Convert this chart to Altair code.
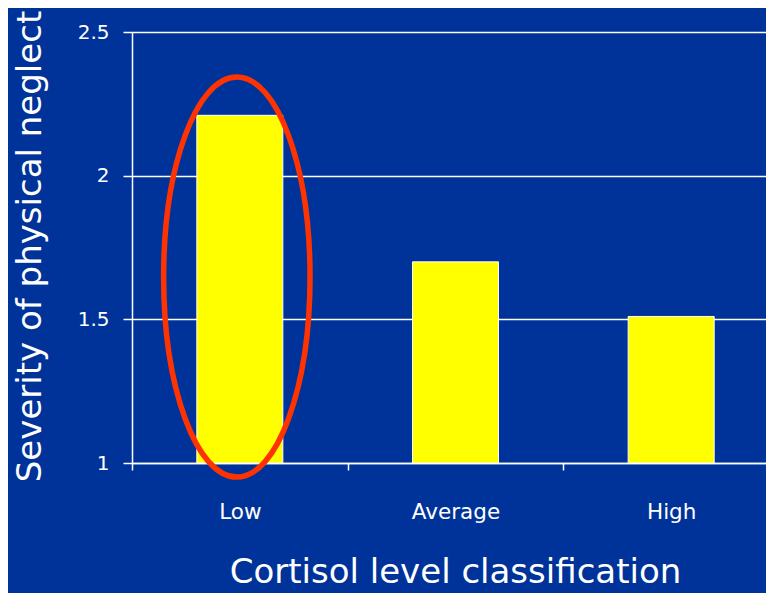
import altair as alt
import pandas as pd

# ---- data ----
categories = ["Low", "Average", "High"]
severity = [2.21, 1.70, 1.51]
y_ticks = [1, 1.5, 2, 2.5]
highlight_cat = ["Low"]
highlight_mid = [1.647]

bars_df = pd.DataFrame({"cat": categories, "value": severity})
ell_df = pd.DataFrame({"cat": highlight_cat, "value": highlight_mid})

FONT = "DejaVu Sans"
BG = "#003399"

# ellipse outline (unit path, scaled by point size)
a = 0.366
k = 0.5523
ka = round(k * a, 4)
ELLIPSE = (
    f"M 0 -1 C {ka} -1 {a} -{k} {a} 0 "
    f"C {a} {k} {ka} 1 0 1 "
    f"C -{ka} 1 -{a} {k} -{a} 0 "
    f"C -{a} -{k} -{ka} -1 0 -1 Z"
)

x_enc = alt.X(
    "cat:N",
    sort=categories,
    scale=alt.Scale(range=[0, 647], paddingInner=0, paddingOuter=0),
    axis=alt.Axis(
        title="Cortisol level classification",
        labelAngle=0,
        tickBand="extent",
        tickSize=7,
        tickColor="white",
        tickWidth=1.5,
        domainColor="white",
        domainWidth=1.5,
        labelColor="white",
        labelFont=FONT,
        labelFontSize=21.5,
        labelBaseline="alphabetic",
        labelPadding=48,
        titleFont=FONT,
        titleFontSize=34,
        titleColor="white",
        titleFontWeight="normal",
        titleX=323,
        titleY=119,
        titleAlign="center",
        titleBaseline="alphabetic",
        grid=False,
    ),
)

y_enc = alt.Y(
    "value:Q",
    scale=alt.Scale(domain=[1, 2.5], zero=False, nice=False),
    axis=alt.Axis(
        title="Severity of physical neglect",
        values=y_ticks,
        format=".1~f",
        tickSize=9,
        tickColor="white",
        tickWidth=1.5,
        domainColor="white",
        domainWidth=1.5,
        grid=True,
        gridColor="white",
        gridWidth=1.5,
        labelColor="white",
        labelFont=FONT,
        labelFontSize=20,
        labelPadding=14,
        titleFont=FONT,
        titleFontSize=34,
        titleColor="white",
        titleFontWeight="normal",
        titleAngle=270,
        titleX=-92,
        titleY=214,
        titleAlign="center",
        titleBaseline="alphabetic",
    ),
)

bars = alt.Chart(bars_df).mark_bar(
    size=86, color="#ffff00", stroke="white", strokeWidth=1
).encode(x=x_enc, y=y_enc, y2=alt.datum(1))

ellipse = alt.Chart(ell_df).mark_point(
    shape=ELLIPSE,
    size=160000,
    filled=False,
    stroke="#ff3300",
    strokeWidth=5.5,
    opacity=1,
    xOffset=-3,
).encode(x=alt.X("cat:N", sort=categories), y=alt.Y("value:Q"))

chart = (
    alt.layer(bars, ellipse)
    .properties(
        width=634,
        height=431,
        padding={"left": 124, "top": 24, "right": 0, "bottom": 130},
        autosize=alt.AutoSizeParams(type="none"),
        background=BG,
    )
    .configure_view(fill=BG, strokeWidth=0)
)

chart.save("out.html", embed_options={"renderer": "svg", "actions": False})
